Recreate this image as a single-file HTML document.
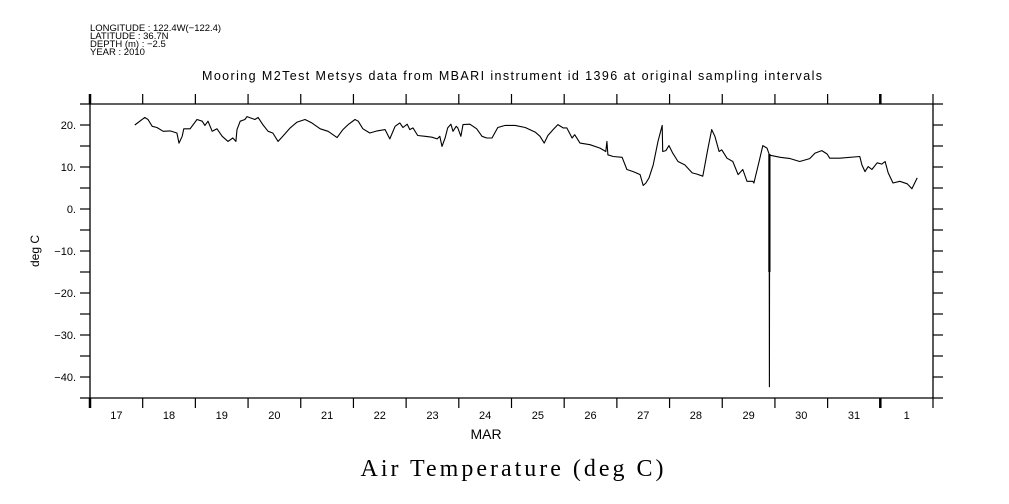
<!DOCTYPE html>
<html><head><meta charset="utf-8"><style>
html,body{margin:0;padding:0;background:#fff;}
svg{display:block;font-family:"Liberation Sans",sans-serif;}
</style></head><body>
<svg id="chart" width="1009" height="504" viewBox="0 0 1009 504" xmlns="http://www.w3.org/2000/svg">
<g font-size="9.5" fill="#000">
<text x="90" y="31" textLength="131">LONGITUDE : 122.4W(−122.4)</text>
<text x="90" y="39">LATITUDE : 36.7N</text>
<text x="90" y="47">DEPTH (m) : −2.5</text>
<text x="90" y="55">YEAR : 2010</text>
</g>
<text x="512" y="80" font-size="12.5" text-anchor="middle" textLength="620">Mooring M2Test Metsys data from MBARI instrument id 1396 at original sampling intervals</text>
<g id="axes"></g>
<g id="series"></g>
<text transform="translate(39,251) rotate(-90)" font-size="12" text-anchor="middle">deg C</text>
<text x="486" y="439" font-size="14" text-anchor="middle">MAR</text>
<text x="512" y="476" font-family="'Liberation Serif',serif" font-size="24" text-anchor="middle" textLength="303">Air Temperature (deg C)</text>
</svg>
<script>
const yTicks = [20, 10, 0, -10, -20, -30, -40];
const dayLabels = ["17","18","19","20","21","22","23","24","25","26","27","28","29","30","31","1"];
const days = [17.85,18.04,18.10,18.18,18.27,18.39,18.52,18.65,18.69,18.75,18.78,18.90,19.03,19.13,19.18,19.24,19.32,19.41,19.51,19.62,19.71,19.77,19.79,19.85,19.94,19.98,20.13,20.19,20.28,20.38,20.47,20.57,20.66,20.80,20.93,21.08,21.21,21.37,21.52,21.69,21.80,21.90,22.03,22.09,22.18,22.31,22.45,22.60,22.69,22.79,22.88,22.94,23.02,23.07,23.13,23.22,23.36,23.49,23.59,23.64,23.68,23.74,23.79,23.85,23.89,23.95,23.98,24.04,24.08,24.21,24.34,24.44,24.53,24.63,24.74,24.88,25.07,25.26,25.45,25.54,25.62,25.69,25.79,25.88,25.98,26.05,26.15,26.20,26.30,26.49,26.68,26.79,26.81,26.83,26.93,27.10,27.19,27.31,27.44,27.50,27.55,27.61,27.69,27.78,27.86,27.87,27.93,27.99,28.06,28.16,28.29,28.43,28.52,28.63,28.73,28.80,28.86,28.94,28.99,29.09,29.20,29.30,29.39,29.47,29.58,29.60,29.70,29.77,29.85,29.89,29.895,29.90,30.10,30.29,30.47,30.66,30.76,30.89,30.99,31.04,31.23,31.61,31.65,31.71,31.77,31.84,31.94,32.03,32.09,32.15,32.24,32.37,32.51,32.60,32.70];
const temps = [20.0,21.8,21.3,19.7,19.4,18.5,18.6,18.1,15.7,17.3,19.1,19.1,21.3,20.9,19.9,20.9,18.5,19.1,17.3,16.1,16.9,16.1,18.9,20.9,21.3,22.0,21.3,21.8,20.1,18.5,18.1,16.1,17.3,19.3,20.7,21.3,20.5,19.1,18.5,17.0,18.9,20.1,21.3,20.9,19.1,18.1,18.6,18.9,16.7,19.7,20.5,19.4,20.2,18.9,19.3,17.5,17.3,17.1,16.7,17.3,14.9,16.9,19.3,20.2,18.5,19.7,19.3,17.3,20.1,20.2,19.1,17.3,16.9,16.9,19.4,19.9,19.9,19.4,18.3,17.3,15.7,17.5,18.9,20.1,19.3,19.3,16.9,17.7,15.7,15.3,14.5,13.7,16.1,12.9,12.5,12.3,9.4,8.9,8.2,5.6,6.2,7.4,10.5,16.1,19.9,13.7,13.9,15.1,13.3,11.3,10.5,8.6,8.3,7.8,14.5,18.9,17.3,13.7,14.1,12.1,11.3,8.2,9.4,6.6,6.6,6.2,11.3,15.1,14.5,13.1,-42.3,12.8,12.3,12.0,11.3,12.0,13.3,13.9,13.1,12.1,12.1,12.5,10.5,8.9,10.1,9.4,11.0,10.7,11.3,8.6,6.2,6.6,6.0,4.8,7.4];

const X0 = 90, X1 = 933, Y0 = 104, Y1 = 398;
const dayMin = 17, dayMax = 33, vMin = -45, vMax = 25;
const xs = d => X0 + (d - dayMin) / (dayMax - dayMin) * (X1 - X0);
const ys = v => Y1 - (v - vMin) / (vMax - vMin) * (Y1 - Y0);
const NS = "http://www.w3.org/2000/svg";
const axes = document.getElementById("axes");
const series = document.getElementById("series");
function mk(tag, attrs, parent) {
  const e = document.createElementNS(NS, tag);
  for (const k in attrs) e.setAttribute(k, attrs[k]);
  parent.appendChild(e);
  return e;
}
let l;
l = mk("line", {x1: X0, y1: Y0, x2: X0, y2: Y1, stroke: "#000", "stroke-width": 1.3}, axes);


l = mk("line", {x1: X1, y1: Y0, x2: X1, y2: Y1, stroke: "#000", "stroke-width": 1.3}, axes);


l = mk("line", {x1: X0 - 10, y1: Y0, x2: X1 + 10, y2: Y0, stroke: "#000", "stroke-width": 1.3}, axes);


l = mk("line", {x1: X0 - 10, y1: Y1, x2: X1 + 10, y2: Y1, stroke: "#000", "stroke-width": 1.3}, axes);


for (let v = -40; v <= 20; v += 5) {
  const y = ys(v);
  l = mk("line", {x1: X0 - 10, y1: y, x2: X0, y2: y, stroke: "#000", "stroke-width": 1.2}, axes);
  
  
  l = mk("line", {x1: X1, y1: y, x2: X1 + 10, y2: y, stroke: "#000", "stroke-width": 1.2}, axes);
  
  
}
yTicks.forEach(v => {
  const t = mk("text", {x: 76, y: ys(v) + 4, "font-size": 11, "text-anchor": "end"}, axes);
  t.textContent = (v < 0 ? "−" + Math.abs(v) : v) + ".";
  
  
});
for (let d = dayMin; d <= dayMax; d++) {
  const x = xs(d);
  const thick = (d === 17 || d === 32) ? 2.5 : 1.2;
  l = mk("line", {x1: x, y1: Y0 - 10, x2: x, y2: Y0, stroke: "#000", "stroke-width": thick}, axes);
  
  
  l = mk("line", {x1: x, y1: Y1, x2: x, y2: Y1 + 10, stroke: "#000", "stroke-width": thick}, axes);
  
  
}
dayLabels.forEach((lab, i) => {
  const t = mk("text", {x: xs(dayMin + i + 0.5), y: 419, "font-size": 11, "text-anchor": "middle"}, axes);
  t.textContent = lab;
  
  
});
const pts = days.map((d, i) => xs(d).toFixed(1) + "," + ys(temps[i]).toFixed(1)).join(" ");
const pl = mk("polyline", {points: pts, fill: "none", stroke: "#000", "stroke-width": 1.1, "stroke-linejoin": "round"}, series);


// thicker upper segment of the spike drop (reference shows double-width trace)
const minIdx = temps.indexOf(Math.min(...temps));
const sp = mk("line", {x1: xs(days[minIdx]), y1: ys(temps[minIdx - 1]), x2: xs(days[minIdx]), y2: ys(-15), stroke: "#000", "stroke-width": 2.2}, series);


</script>
</body></html>
